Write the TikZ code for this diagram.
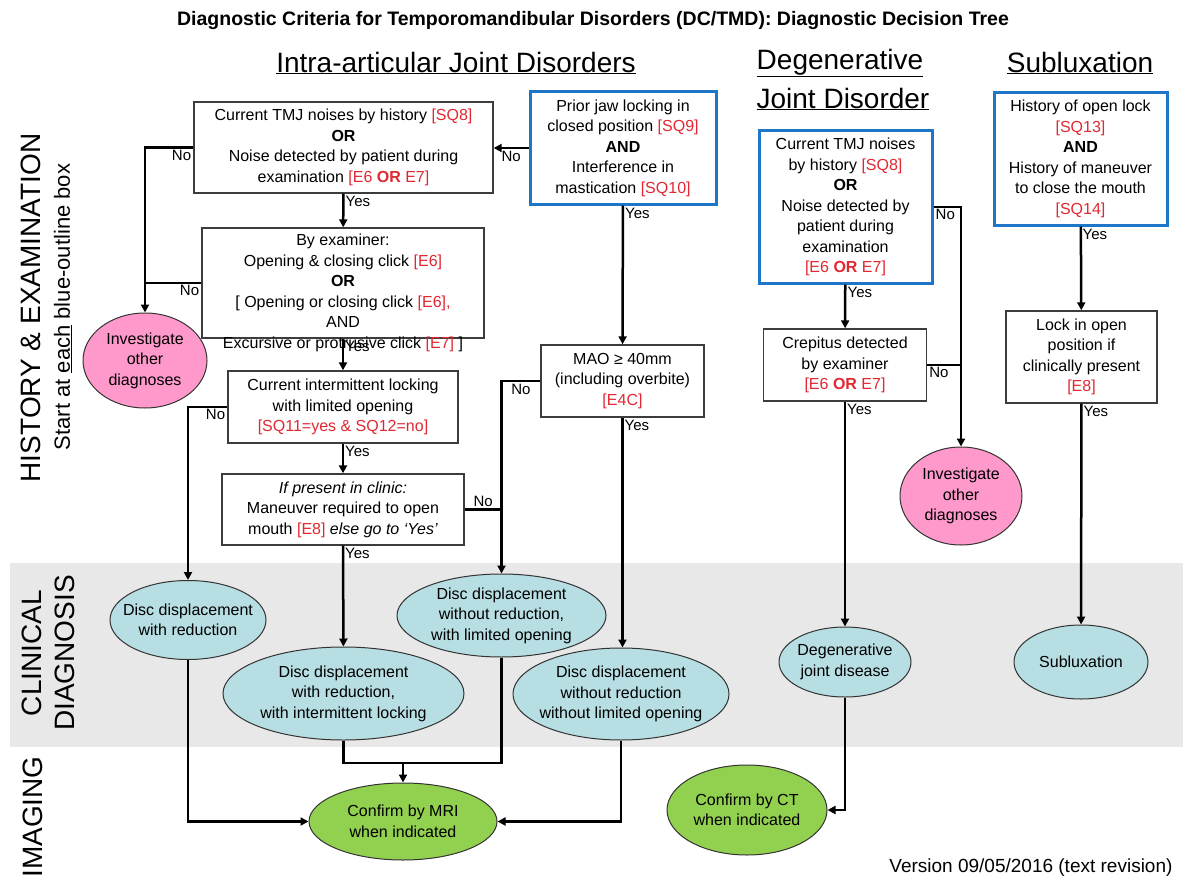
\documentclass[tikz,border=0pt]{standalone}
\usepackage{fontspec}
\setmainfont{Liberation Sans}
\usetikzlibrary{shapes.geometric,arrows.meta}

\definecolor{tmdblue}{RGB}{30,118,200}
\definecolor{tmdred}{RGB}{225,40,50}
\definecolor{tmdpink}{RGB}{255,153,204}
\definecolor{tmdcyan}{RGB}{183,222,227}
\definecolor{tmdgreen}{RGB}{146,208,80}
\definecolor{bandgray}{RGB}{232,232,232}
\definecolor{boxgray}{RGB}{60,60,60}

\newcommand{\tmdref}[1]{\textcolor{tmdred}{#1}}
\newcommand{\tmdeor}{\textcolor{tmdred}{[E6 \textbf{OR} E7]}}

\tikzset{
  txt/.style={align=center, font=\fontsize{16}{20.5}\selectfont, inner sep=0pt},
  box/.style={txt, draw=boxgray, line width=1.4pt, fill=white},
  bluebox/.style={box, draw=tmdblue, line width=3pt},
  oval/.style={ellipse, draw=black!80, line width=1pt, inner sep=0pt},
  diag/.style={oval, fill=tmdcyan},
  other/.style={oval, fill=tmdpink},
  confirm/.style={oval, fill=tmdgreen},
  flow/.style={line width=2.5pt},
  arr/.style={flow, -{Triangle[length=8pt,width=8pt]}},
  yn/.style={font=\fontsize{15}{18}\selectfont, inner sep=2pt},
  head/.style={font=\fontsize{28}{34}\selectfont},
  side/.style={font=\fontsize{28}{34}\selectfont, rotate=90}
}

\begin{document}
\begin{tikzpicture}[x=1pt, y=-1pt]
\useasboundingbox (0,0) rectangle (1183,880);
\fill[bandgray] (10,563) rectangle (1183,747);

\node[font=\bfseries\fontsize{19.5}{23}\selectfont] (title) at (593,21) {Diagnostic Criteria for Temporomandibular Disorders (DC/TMD): Diagnostic Decision Tree};
\node[head] (hintra) at (456,63) {\underline{Intra-articular Joint Disorders}};
\node[head] (hdeg) at (840,63) {\underline{Degenerative}};
\node[head] (hjoint) at (843,99) {\underline{Joint Disorder}};
\node[head] (hsub) at (1080,63) {\underline{Subluxation}};

\node[side] (shist) at (31,308) {HISTORY \& EXAMINATION};
\node[rotate=90, font=\fontsize{22}{26}\selectfont] (sstart) at (63,307) {Start at \underline{each} blue-outline box};
\node[side] (sclin) at (32,653) {CLINICAL};
\node[side] (sdiag) at (65,653) {DIAGNOSIS};
\node[side] (simg) at (33,817) {IMAGING};

\node[box, minimum width=299pt, minimum height=91pt] (noise) at (343.5,147.5) {Current TMJ noises by history \tmdref{[SQ8]}\\\textbf{OR}\\Noise detected by patient during\\examination \tmdeor};
\node[box, minimum width=282pt, minimum height=110pt] (click) at (343,283) {};
\node[txt] (clicktxt) at (343,293) {By examiner:\\Opening \& closing click \tmdref{[E6]}\\\textbf{OR}\\{[} Opening or closing click \tmdref{[E6],}\\AND\\Excursive or protrusive click \tmdref{[E7]} ]};
\node[bluebox, minimum width=186pt, minimum height=112pt] (priorlock) at (623,148) {Prior jaw locking in\\closed position \tmdref{[SQ9]}\\\textbf{AND}\\Interference in\\mastication \tmdref{[SQ10]}};
\node[box, minimum width=230pt, minimum height=72pt] (intlock) at (343,407) {Current intermittent locking\\with limited opening\\\tmdref{[SQ11=yes \& SQ12=no]}};
\node[box, minimum width=242pt, minimum height=71pt] (maneuver) at (343,509.5) {\textit{If present in clinic:}\\Maneuver required to open\\mouth \tmdref{[E8]} \textit{else go to ‘Yes’}};
\node[box, minimum width=163pt, minimum height=72pt] (mao) at (622.5,381) {MAO ≥ 40mm\\(including overbite)\\\tmdref{[E4C]}};
\node[bluebox, minimum width=173pt, minimum height=152pt] (degnoise) at (845.5,207) {Current TMJ noises\\by history \tmdref{[SQ8]}\\\textbf{OR}\\Noise detected by\\patient during\\examination\\\tmdeor};
\node[box, minimum width=163pt, minimum height=72pt] (crepitus) at (845,365) {Crepitus detected\\by examiner\\\tmdeor};
\node[bluebox, minimum width=173pt, minimum height=132pt] (openlock) at (1080.5,159) {History of open lock\\\tmdref{[SQ13]}\\\textbf{AND}\\History of maneuver\\to close the mouth\\\tmdref{[SQ14]}};
\node[box, minimum width=151pt, minimum height=92pt] (lockopen) at (1081.5,357) {Lock in open\\position if\\clinically present\\\tmdref{[E8]}};

\node[other, minimum width=124pt, minimum height=95pt] (otherL) at (145,360.5) {};
\node[txt] at (otherL) {Investigate\\other\\diagnoses};
\node[other, minimum width=122pt, minimum height=98pt] (otherR) at (961,496) {};
\node[txt] at (otherR) {Investigate\\other\\diagnoses};

\node[diag, minimum width=156pt, minimum height=79pt] (ddwr) at (188,620) {};
\node[txt] at (ddwr) {Disc displacement\\with reduction};
\node[diag, minimum width=241pt, minimum height=93pt] (ddwril) at (343.5,693.5) {};
\node[txt] at (ddwril) {Disc displacement\\with reduction,\\with intermittent locking};
\node[diag, minimum width=216pt, minimum height=92pt] (ddwowlo) at (621,694) {};
\node[txt] at (ddwowlo) {Disc displacement\\without reduction\\without limited opening};
\node[diag, minimum width=209pt, minimum height=83pt] (ddwolo) at (501.5,615.5) {};
\node[txt] at (ddwolo) {Disc displacement\\without reduction,\\with limited opening};
\node[diag, minimum width=132pt, minimum height=70pt] (djd) at (845,662) {};
\node[txt] at (djd) {Degenerative\\joint disease};
\node[diag, minimum width=134pt, minimum height=74pt] (sublux) at (1081,662) {};
\node[txt] at (sublux) {Subluxation};

\node[confirm, minimum width=188pt, minimum height=77pt] (mri) at (403,821.5) {};
\node[txt] at (mri) {Confirm by MRI\\when indicated};
\node[confirm, minimum width=160pt, minimum height=90pt] (ct) at (747,810) {};
\node[txt] at (ct) {Confirm by CT\\when indicated};

\draw[arr] (noise) -- (click);
\node[yn, below right] at (noise.south) {Yes};
\draw[arr] (click) -- (intlock);
\node[yn, below right] at (click.south) {Yes};
\draw[arr] (intlock) -- (maneuver);
\node[yn, below right] at (intlock.south) {Yes};
\draw[arr] (maneuver) -- (ddwril);
\node[yn, below right] at (maneuver.south) {Yes};
\draw[arr] (priorlock) -- (mao);
\node[yn, below right] at (priorlock.south) {Yes};
\draw[arr] (mao.south) -- (mao.south |- ddwowlo.north);
\node[yn, below right] at (mao.south) {Yes};
\draw[arr] (degnoise) -- (crepitus);
\node[yn, below right] at (degnoise.south) {Yes};
\draw[arr] (crepitus) -- (djd);
\node[yn, below right] at (crepitus.south) {Yes};
\draw[arr] (openlock) -- (lockopen);
\node[yn, below right] at (openlock.south) {Yes};
\draw[arr] (lockopen) -- (sublux);
\node[yn, below right] at (lockopen.south) {Yes};

\draw[arr] (noise.west) -| (otherL.north);
\node[yn, below left] at (noise.west) {No};
\draw[flow] (click.west) -- (click.west -| otherL.north);
\node[yn, below left] at (click.west) {No};
\draw[arr] (priorlock.west) -- node[yn, below] {No} (priorlock.west -| noise.east);
\draw[arr] (intlock.west) -| (ddwr.north);
\node[yn, below left] at (intlock.west) {No};
\draw[flow] (maneuver.east) -- node[yn, above] {No} (maneuver.east -| ddwolo.north);
\draw[arr] (mao.west) -| node[yn, below, pos=0.25] {No} (ddwolo.north);
\draw[arr] (degnoise.east) -| (otherR.north);
\node[yn, below right] at (degnoise.east) {No};
\draw[flow] (crepitus.east) -- (crepitus.east -| otherR.north);
\node[yn, below right] at (crepitus.east) {No};

\coordinate (mrijoin) at (403,763);
\draw[arr] (ddwr.south) |- (mri.west);
\draw[flow] (ddwril.south) |- (mrijoin);
\draw[flow] (ddwolo.south) |- (mrijoin);
\draw[arr] (mrijoin) -- (mri.north);
\draw[arr] (ddwowlo.south) |- (mri.east);
\draw[arr] (djd.south) |- (ct.east);

\node[font=\fontsize{19}{22}\selectfont, anchor=east] (version) at (1176,868) {Version 09/05/2016 (text revision)};
\end{tikzpicture}
\end{document}
